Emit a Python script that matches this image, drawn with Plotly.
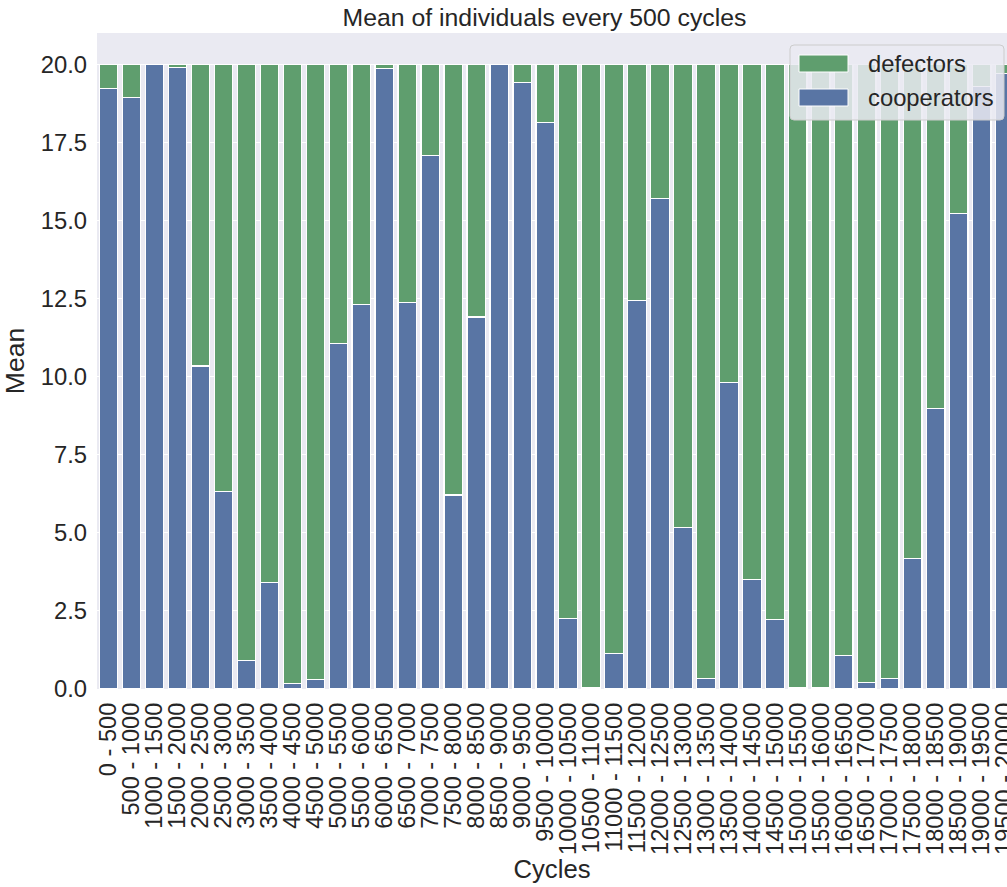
import plotly.graph_objects as go

categories = [
    "0 - 500", "500 - 1000", "1000 - 1500", "1500 - 2000", "2000 - 2500",
    "2500 - 3000", "3000 - 3500", "3500 - 4000", "4000 - 4500", "4500 - 5000",
    "5000 - 5500", "5500 - 6000", "6000 - 6500", "6500 - 7000", "7000 - 7500",
    "7500 - 8000", "8000 - 8500", "8500 - 9000", "9000 - 9500", "9500 - 10000",
    "10000 - 10500", "10500 - 11000", "11000 - 11500", "11500 - 12000", "12000 - 12500",
    "12500 - 13000", "13000 - 13500", "13500 - 14000", "14000 - 14500", "14500 - 15000",
    "15000 - 15500", "15500 - 16000", "16000 - 16500", "16500 - 17000", "17000 - 17500",
    "17500 - 18000", "18000 - 18500", "18500 - 19000", "19000 - 19500", "19500 - 20000",
]

cooperators = [
    19.22, 18.94, 19.98, 19.89, 10.34, 6.31, 0.90, 3.41, 0.18, 0.31,
    11.05, 12.32, 19.86, 12.38, 17.09, 6.21, 11.91, 19.99, 19.41, 18.13,
    2.26, 0.03, 1.14, 12.43, 15.70, 5.18, 0.33, 9.80, 3.51, 2.22,
    0.06, 0.03, 1.06, 0.20, 0.34, 4.18, 8.98, 15.23, 19.30, 19.70,
]

defectors = [
    0.78, 1.06, 0.02, 0.11, 9.66, 13.69, 19.10, 16.59, 19.82, 19.69,
    8.95, 7.68, 0.14, 7.62, 2.91, 13.79, 8.09, 0.01, 0.59, 1.87,
    17.74, 19.97, 18.86, 7.57, 4.30, 14.82, 19.67, 10.20, 16.49, 17.78,
    19.94, 19.97, 18.94, 19.80, 19.66, 15.82, 11.02, 4.77, 0.70, 0.30,
]

y_ticks = [0, 2.5, 5, 7.5, 10, 12.5, 15, 17.5, 20]

BLUE = "#5975A4"
GREEN = "#5F9E6E"
TEXT = "#262626"
FONT = "Liberation Sans, Arial, sans-serif"

fig = go.Figure()
fig.add_trace(go.Bar(
    x=categories, y=cooperators, name="cooperators", showlegend=False,
    marker=dict(color=BLUE, line=dict(color="white", width=1.2)),
))
fig.add_trace(go.Bar(
    x=categories, y=defectors, name="defectors", showlegend=False,
    marker=dict(color=GREEN, line=dict(color="white", width=1.2)),
))

W, H = 1007, 887
PL, PR, PT, PB = 97, 1007, 33, 689  # plot area in pixels


def px_x(x):
    return (x - PL) / (PR - PL)


def px_y(y):
    return (PB - y) / (PB - PT)


# Legend drawn in the matplotlib style (large swatches, rounded frame)
shapes = []
annotations = []
lx0, lx1, ly0, ly1, r = 790, 1004, 45, 120, 4
frame = (
    f"M {px_x(lx0 + r)} {px_y(ly0)} L {px_x(lx1 - r)} {px_y(ly0)} "
    f"Q {px_x(lx1)} {px_y(ly0)} {px_x(lx1)} {px_y(ly0 + r)} "
    f"L {px_x(lx1)} {px_y(ly1 - r)} Q {px_x(lx1)} {px_y(ly1)} {px_x(lx1 - r)} {px_y(ly1)} "
    f"L {px_x(lx0 + r)} {px_y(ly1)} Q {px_x(lx0)} {px_y(ly1)} {px_x(lx0)} {px_y(ly1 - r)} "
    f"L {px_x(lx0)} {px_y(ly0 + r)} Q {px_x(lx0)} {px_y(ly0)} {px_x(lx0 + r)} {px_y(ly0)} Z"
)
shapes.append(dict(type="path", xref="paper", yref="paper", path=frame,
                   fillcolor="rgba(234,234,242,0.85)",
                   line=dict(color="#CCCCCC", width=1), layer="above"))
for i, tr in enumerate(reversed(fig.data)):
    cy = 63.5 + i * 34
    shapes.append(dict(type="rect", xref="paper", yref="paper",
                       x0=px_x(799), x1=px_x(848), y0=px_y(cy - 8.5), y1=px_y(cy + 8.5),
                       fillcolor=tr.marker.color, line=dict(color="white", width=1),
                       layer="above"))
    annotations.append(dict(xref="paper", yref="paper", x=px_x(866), y=px_y(cy),
                            xanchor="left", yanchor="middle", showarrow=False,
                            text=tr.name, font=dict(size=23.8, color=TEXT, family=FONT)))

fig.update_layout(
    width=W, height=H,
    barmode="stack", bargap=0.2,
    paper_bgcolor="white", plot_bgcolor="#EAEAF2",
    margin=dict(l=PL, r=W - PR, t=PT, b=H - PB, autoexpand=False),
    font=dict(family=FONT, color=TEXT, size=23.6),
    showlegend=False,
    shapes=shapes,
    annotations=annotations,
    title=dict(
        text="Mean of individuals every 500 cycles",
        font=dict(size=24.8, color=TEXT, family=FONT),
        x=544.5 / W, xref="container", xanchor="center",
        y=1 - 17 / H, yref="container", yanchor="middle",
    ),
    xaxis=dict(
        type="category", range=[-0.5, 39.1],
        tickmode="array", tickvals=categories, ticktext=categories,
        tickangle=-90, showgrid=False, ticks="",
        tickfont=dict(size=23.6, color=TEXT, family=FONT),
        ticklabelstandoff=8,
        title=dict(text="Cycles", font=dict(size=25.7, color=TEXT, family=FONT), standoff=0),
        automargin=False,
    ),
    yaxis=dict(
        range=[0, 21], tickvals=y_ticks, tickformat=".1f",
        showgrid=True, gridcolor="white", gridwidth=1.3, zeroline=False,
        ticks="", tickfont=dict(size=23.8, color=TEXT, family=FONT),
        ticklabelstandoff=9,
        title=dict(text="Mean", font=dict(size=26.5, color=TEXT, family=FONT), standoff=10),
        automargin=False,
    ),
)

fig.write_html(
    "out.html",
    config={"displayModeBar": False},
    post_script="document.body.style.margin='0';document.body.style.overflow='hidden';",
)
